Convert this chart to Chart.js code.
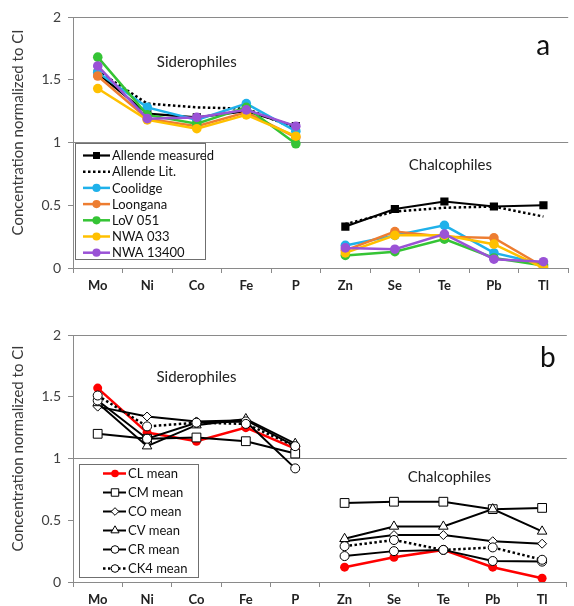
<!DOCTYPE html>
<html><head><meta charset="utf-8">
<script src="https://cdn.jsdelivr.net/npm/chart.js@4.4.0/dist/chart.umd.min.js"></script>
<style>
html,body{margin:0;padding:0;background:#fff;}
body{width:574px;height:606px;position:relative;overflow:hidden;}
canvas{position:absolute;left:0;}
#ca{top:0;} #cb{top:308px;}
</style></head><body>
<canvas id="ca" width="574" height="308"></canvas>
<canvas id="cb" width="574" height="298"></canvas>
<script>
// ---------- data ----------
const categories = ['Mo','Ni','Co','Fe','P','Zn','Se','Te','Pb','Tl'];
const yTickValues = [0, 0.5, 1, 1.5, 2];
const yTickLabels = ['0', '0.5', '1', '1.5', '2'];
const yTitle = 'Concentration normalized to CI';

// Panel a
const allendeMeasured = [1.55, 1.23, 1.20, 1.25, 1.13, 0.33, 0.47, 0.53, 0.49, 0.50];
const allendeLit      = [1.57, 1.31, 1.28, 1.27, 1.11, 0.35, 0.45, 0.48, 0.49, 0.41];
const coolidge        = [1.56, 1.28, 1.18, 1.31, 1.09, 0.18, 0.26, 0.34, 0.12, 0.03];
const loongana        = [1.53, 1.19, 1.13, 1.24, 1.04, 0.14, 0.29, 0.25, 0.24, 0.01];
const lov051          = [1.68, 1.22, 1.15, 1.28, 0.99, 0.10, 0.13, 0.23, 0.08, 0.02];
const nwa033          = [1.43, 1.18, 1.11, 1.22, 1.05, 0.12, 0.26, 0.26, 0.19, 0.00];
const nwa13400        = [1.61, 1.19, 1.20, 1.26, 1.13, 0.16, 0.15, 0.27, 0.07, 0.05];

// Panel b
const clMean  = [1.57, 1.21, 1.14, 1.25, 1.08, 0.12, 0.20, 0.26, 0.12, 0.03];
const cmMean  = [1.20, 1.16, 1.17, 1.14, 1.04, 0.64, 0.65, 0.65, 0.59, 0.60];
const coMean  = [1.42, 1.34, 1.30, 1.31, 1.10, 0.33, 0.38, 0.38, 0.33, 0.31];
const cvMean  = [1.45, 1.10, 1.27, 1.32, 1.12, 0.35, 0.45, 0.45, 0.59, 0.41];
const crMean  = [1.47, 1.16, 1.29, 1.30, 0.92, 0.21, 0.25, 0.26, 0.17, 0.165];
const ck4Mean = [1.51, 1.26, 1.29, 1.28, 1.10, 0.29, 0.34, 0.26, 0.28, 0.18];

// ---------- helpers ----------
const FONT = "Lato, 'Open Sans', 'Liberation Sans', sans-serif";
const GAP_AFTER = 4; // no line between P and Zn

function drawMarker(ctx, style, x, y, r, fill, stroke, lw) {
  ctx.save();
  ctx.beginPath();
  if (style === 'rect') {
    const s = Math.SQRT1_2 * r;
    ctx.rect(x - s, y - s, 2 * s, 2 * s);
  } else if (style === 'rectRot') {
    ctx.moveTo(x, y - r); ctx.lineTo(x + r, y); ctx.lineTo(x, y + r); ctx.lineTo(x - r, y); ctx.closePath();
  } else if (style === 'triangle') {
    let a = 0;
    ctx.moveTo(x + Math.sin(a) * r, y - Math.cos(a) * r);
    a += 2 * Math.PI / 3; ctx.lineTo(x + Math.sin(a) * r, y - Math.cos(a) * r);
    a += 2 * Math.PI / 3; ctx.lineTo(x + Math.sin(a) * r, y - Math.cos(a) * r);
    ctx.closePath();
  } else {
    ctx.arc(x, y, r, 0, Math.PI * 2);
  }
  ctx.fillStyle = fill; ctx.fill();
  if (lw > 0) { ctx.lineWidth = lw; ctx.strokeStyle = stroke; ctx.stroke(); }
  ctx.restore();
}

const boxLegend = {
  id: 'boxLegend',
  afterDatasetsDraw(chart, args, o) {
    const ctx = chart.ctx, ca = chart.chartArea, ys = chart.scales.y;
    const bx = Math.round(ca.left + o.dx), by = Math.round(ys.getPixelForValue(1) + o.dy);
    ctx.save();
    ctx.fillStyle = '#fff'; ctx.fillRect(bx, by, o.w, o.h);
    ctx.strokeStyle = '#6f6f6f'; ctx.lineWidth = 1; ctx.strokeRect(bx + 0.5, by + 0.5, o.w, o.h);
    chart.data.datasets.forEach((ds, i) => {
      const ry = by + o.firstRow + i * o.rowStep;
      ctx.beginPath();
      ctx.setLineDash(ds.borderDash || []);
      ctx.strokeStyle = ds.borderColor; ctx.lineWidth = ds.borderWidth;
      ctx.moveTo(bx + o.lineX0, ry); ctx.lineTo(bx + o.lineX1, ry); ctx.stroke();
      ctx.setLineDash([]);
      if (ds.pointRadius > 0) {
        drawMarker(ctx, ds.pointStyle, bx + o.markX, ry, ds.pointRadius * o.markScale,
          ds.pointBackgroundColor, ds.pointBorderColor, ds.pointBorderWidth);
      }
      ctx.fillStyle = '#111'; ctx.font = o.font; ctx.textBaseline = 'middle'; ctx.textAlign = 'left';
      ctx.fillText(ds.label, bx + o.textX, ry + 0.5);
    });
    ctx.restore();
  }
};

const annot = {
  id: 'annot',
  afterDraw(chart, args, o) {
    const ctx = chart.ctx, ca = chart.chartArea, xs = chart.scales.x, ys = chart.scales.y;
    ctx.save();
    ctx.fillStyle = '#222';
    ctx.textAlign = 'center'; ctx.textBaseline = 'middle';
    ctx.font = '15px ' + FONT;
    ctx.fillText('Siderophiles', xs.getPixelForValue(2), ys.getPixelForValue(o.sideY));
    ctx.fillText('Chalcophiles', xs.getPixelForValue(7) + 6, ys.getPixelForValue(o.chalY));
    ctx.font = '28px ' + FONT; ctx.fillStyle = '#111'; ctx.textBaseline = 'alphabetic';
    ctx.fillText(o.letter, ca.right - o.letterDx, ys.getPixelForValue(o.letterY));
    // y title
    ctx.translate(18, (ca.top + ca.bottom) / 2 - 10);
    ctx.rotate(-Math.PI / 2);
    ctx.font = '15px ' + FONT; ctx.fillStyle = '#3a3a3a'; ctx.textBaseline = 'middle';
    ctx.fillText(yTitle, 0, 0);
    ctx.restore();
  }
};

function series(label, data, opts) {
  return Object.assign({
    label, data,
    borderWidth: 2.5, pointBorderWidth: 0, pointRadius: 4.8, pointHoverRadius: 4.8,
    pointStyle: 'circle', fill: false, tension: 0,
    segment: { borderColor: c => c.p0DataIndex === GAP_AFTER ? 'rgba(0,0,0,0)' : undefined }
  }, opts);
}

function makeOptions(cfg) {
  return {
    responsive: false, animation: false, devicePixelRatio: 1,
    layout: { padding: { top: cfg.padTop, bottom: cfg.padBottom, left: 0, right: 0 } },
    plugins: {
      legend: { display: false }, tooltip: { enabled: false },
      boxLegend: cfg.legend, annot: cfg.annot
    },
    scales: {
      x: {
        type: 'category', offset: true,
        afterFit: s => { s.height = cfg.xHeight; },
        grid: { display: true, drawOnChartArea: false, drawTicks: true, tickLength: 5, tickColor: '#8a8a8a', offset: true },
        border: { display: true, color: '#8a8a8a', width: 1 },
        ticks: { color: '#222', font: { family: FONT, size: 13, weight: 'bold' }, padding: 5, autoSkip: false, maxRotation: 0 }
      },
      y: {
        min: 0, max: 2,
        afterFit: s => { s.width = 73; },
        afterBuildTicks: s => { s.ticks = yTickValues.map(v => ({ value: v })); },
        grid: {
          color: c => (c.tick && (c.tick.value === 1 || c.tick.value === 2)) ? '#8a8a8a' : 'rgba(0,0,0,0)',
          tickColor: '#8a8a8a', tickLength: 5, drawTicks: true, lineWidth: 1
        },
        border: { display: true, color: '#8a8a8a', width: 1 },
        ticks: {
          color: '#404040', font: { family: FONT, size: 14 }, padding: 7,
          callback: v => { const i = yTickValues.indexOf(v); return i >= 0 ? yTickLabels[i] : ''; }
        }
      }
    }
  };
}

// ---------- panel a ----------
const dsA = [
  series('Allende measured', allendeMeasured, { borderColor: '#000', pointBackgroundColor: '#000', pointBorderColor: '#000', pointStyle: 'rect', pointRadius: 5.8, borderWidth: 2.2 }),
  series('Allende Lit.', allendeLit, { borderColor: '#000', borderDash: [2.5, 2.5], pointRadius: 0, borderWidth: 2.5 }),
  series('Coolidge', coolidge, { borderColor: '#1fb1ea', pointBackgroundColor: '#1fb1ea', pointBorderColor: '#1fb1ea' }),
  series('Loongana', loongana, { borderColor: '#ed7d31', pointBackgroundColor: '#ed7d31', pointBorderColor: '#ed7d31' }),
  series('LoV 051', lov051, { borderColor: '#35c435', pointBackgroundColor: '#35c435', pointBorderColor: '#35c435' }),
  series('NWA 033', nwa033, { borderColor: '#ffc000', pointBackgroundColor: '#ffc000', pointBorderColor: '#ffc000' }),
  series('NWA 13400', nwa13400, { borderColor: '#9a52d6', pointBackgroundColor: '#9a52d6', pointBorderColor: '#9a52d6' })
];
dsA.forEach((d, i) => { d.order = dsA.length - i; });

new Chart(document.getElementById('ca'), {
  type: 'line',
  data: { labels: categories, datasets: dsA },
  options: makeOptions({
    padTop: 17, padBottom: 10, xHeight: 30,
    legend: { dx: 2, dy: 0, w: 130, h: 116, firstRow: 12.5, rowStep: 16.2, lineX0: 8, lineX1: 35, markX: 21.5, markScale: 0.85, textX: 37, font: '13px ' + FONT },
    annot: { sideY: 1.64, chalY: 0.82, letter: 'a', letterDx: 25, letterY: 1.70 }
  }),
  plugins: [boxLegend, annot]
});

// ---------- panel b ----------
const openMark = { pointBackgroundColor: '#fff', pointBorderColor: '#000', pointBorderWidth: 1, borderColor: '#000', borderWidth: 2 };
const dsB = [
  series('CL mean', clMean, { borderColor: '#ff0000', pointBackgroundColor: '#ff0000', pointBorderColor: '#ff0000', pointRadius: 4.5, borderWidth: 2.5 }),
  series('CM mean', cmMean, Object.assign({}, openMark, { pointStyle: 'rect', pointRadius: 6.2 })),
  series('CO mean', coMean, Object.assign({}, openMark, { pointStyle: 'rectRot', pointRadius: 4.5 })),
  series('CV mean', cvMean, Object.assign({}, openMark, { pointStyle: 'triangle', pointRadius: 5.5 })),
  series('CR mean', crMean, Object.assign({}, openMark, { pointStyle: 'circle', pointRadius: 4.5 })),
  series('CK4 mean', ck4Mean, Object.assign({}, openMark, { pointStyle: 'circle', pointRadius: 4.5, borderDash: [2.5, 2.5], borderWidth: 2.5 }))
];
dsB.forEach((d, i) => { d.order = dsB.length - i; });

new Chart(document.getElementById('cb'), {
  type: 'line',
  data: { labels: categories, datasets: dsB },
  options: makeOptions({
    padTop: 27, padBottom: 0, xHeight: 24,
    legend: { dx: 6, dy: 5, w: 119, h: 113, firstRow: 9.5, rowStep: 19, lineX0: 24, lineX1: 47, markX: 36, markScale: 0.85, textX: 49, font: '13px ' + FONT },
    annot: { sideY: 1.66, chalY: 0.85, letter: 'b', letterDx: 19, letterY: 1.74 }
  }),
  plugins: [boxLegend, annot]
});
</script>
</body></html>
